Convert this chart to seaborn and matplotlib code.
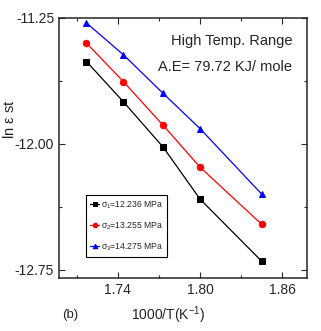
import numpy as np
import pandas as pd
import seaborn as sns
from matplotlib import pyplot as plt
from matplotlib.ticker import MultipleLocator

# values
inv_T = [1.717, 1.744, 1.773, 1.800, 1.845]
ln_s1 = [-11.51, -11.75, -12.02, -12.33, -12.70]
ln_s2 = [-11.40, -11.63, -11.89, -12.14, -12.48]
ln_s3 = [-11.28, -11.47, -11.70, -11.91, -12.30]
labels = [r"$\sigma_1$=12.236 MPa", r"$\sigma_2$=13.255 MPa", r"$\sigma_3$=14.275 MPa"]
colors = ["black", "red", "blue"]
markers = ["s", "o", "^"]

df = pd.DataFrame({
    "x": inv_T * 3,
    "y": ln_s1 + ln_s2 + ln_s3,
    "stress": [labels[0]] * 5 + [labels[1]] * 5 + [labels[2]] * 5,
})

sns.set_style("ticks")
plt.rcParams["font.family"] = ["Liberation Sans", "DejaVu Sans"]
plt.rcParams["mathtext.fontset"] = "custom"
plt.rcParams["mathtext.rm"] = "Liberation Sans"
plt.rcParams["mathtext.it"] = "Liberation Sans"

fig = plt.figure(figsize=(3.21, 3.31), dpi=100)
ax = fig.add_axes([0.184, 0.160, 0.772, 0.786])

sns.lineplot(data=df, x="x", y="y", hue="stress", style="stress",
             palette=colors, markers=markers, dashes=False,
             markersize=4.6, markeredgecolor=None, linewidth=0.9, ax=ax)

ax.set_xlim(1.697, 1.878)
ax.set_ylim(-12.80, -11.25)
ax.set_xticks([1.74, 1.80, 1.86])
ax.set_yticks([-11.25, -12.00, -12.75])
ax.set_xticklabels(["1.74", "1.80", "1.86"])
ax.set_yticklabels(["-11.25", "-12.00", "-12.75"])
ax.xaxis.set_minor_locator(MultipleLocator(0.03))
ax.yaxis.set_minor_locator(MultipleLocator(0.375))
ax.tick_params(which="both", direction="in", top=True, right=True, labelsize=10, width=0.8)
ax.tick_params(which="major", length=4)
ax.tick_params(which="minor", length=2.5)
for s in ax.spines.values():
    s.set_linewidth(1.1)

ax.set_xlabel("1000/T(K$^{-1}$)", fontsize=10, labelpad=6)
ax.xaxis.set_label_coords(0.44, -0.1)
ax.set_ylabel(r"ln $\varepsilon$ st", fontsize=10.5)
ax.yaxis.set_label_coords(-0.17, 0.61)

ax.text(0.94, 0.91, "High Temp. Range", transform=ax.transAxes, ha="right", va="center", fontsize=10.5)
ax.text(0.94, 0.81, "A.E= 79.72 KJ/ mole", transform=ax.transAxes, ha="right", va="center", fontsize=10.5)
fig.text(0.22, 0.04, "(b)", fontsize=9.5, ha="center")

leg = ax.legend(loc="lower left", bbox_to_anchor=(0.109, 0.08), fontsize=6.2,
                frameon=True, fancybox=False, edgecolor="black", framealpha=1,
                handlelength=1.0, handletextpad=0.2, borderpad=0.5, labelspacing=1.1,
                borderaxespad=0, markerscale=0.7)
leg.get_frame().set_linewidth(0.8)

fig.savefig("out.png", dpi=100)
